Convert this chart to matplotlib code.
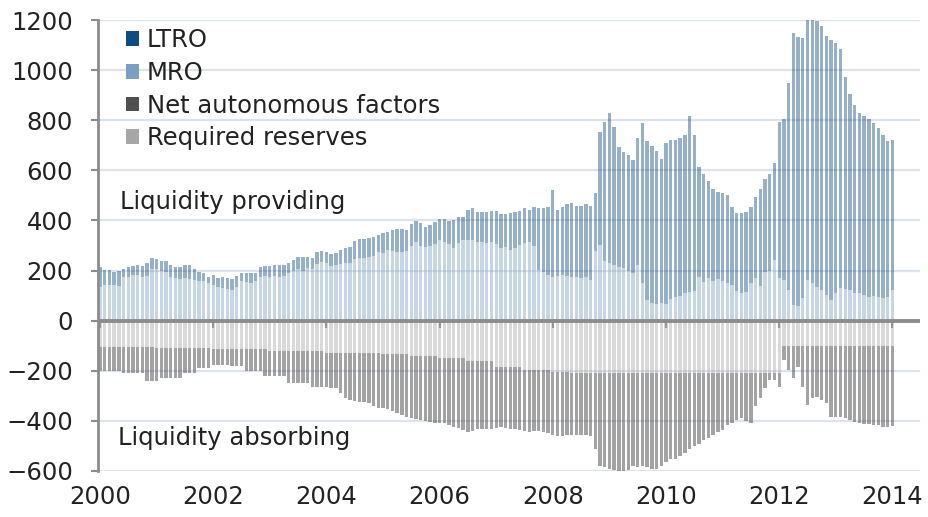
import numpy as np
import pandas as pd
import matplotlib
matplotlib.use("Agg")
import matplotlib.pyplot as plt
from matplotlib.patches import Patch

# ---------------- data (EUR bn, monthly Jan 2000 - Jan 2014) ----------------
months = pd.date_range("2000-01-01", periods=169, freq="MS")

ltro = [
    79, 60, 60, 52, 59, 30, 40, 36, 40, 45, 51, 44,            # 2000
    42, 39, 44, 48, 45, 47, 53, 58, 44, 35, 31, 25,            # 2001
    40, 36, 45, 43, 43, 44, 31, 36, 41, 31, 40, 39,            # 2002
    44, 43, 48, 45, 41, 43, 50, 55, 45, 46, 50, 44,            # 2003
    45, 47, 48, 58, 61, 64, 74, 77, 76, 76, 75, 68,            # 2004
    81, 72, 83, 92, 92, 83, 87, 84, 91, 80, 83, 90,            # 2005
    84, 92, 94, 112, 105, 95, 120, 127, 120, 120, 125, 124,    # 2006
    134, 136, 132, 148, 145, 136, 140, 128, 155, 247, 255, 272,  # 2007
    347, 263, 272, 289, 296, 284, 289, 292, 296, 230, 450, 554,  # 2008
    599, 551, 479, 464, 462, 452, 507, 640, 634, 628, 613, 576,  # 2009
    642, 637, 627, 630, 632, 702, 622, 439, 431, 388, 366, 349,  # 2010
    350, 352, 312, 311, 319, 319, 304, 323, 386, 370, 386, 387,  # 2011
    623, 642, 825, 1084, 1075, 1036, 1052, 1064, 1059, 1052, 1032, 1036,  # 2012
    998, 953, 845, 780, 748, 716, 711, 707, 690, 674, 651, 620,  # 2013
    596,                                                          # 2014
]

mro = [
    136, 143, 143, 143, 140, 175, 175, 183, 183, 175, 180, 207,
    205, 200, 195, 175, 170, 168, 170, 165, 163, 160, 160, 150,
    143, 135, 130, 128, 124, 135, 160, 155, 150, 160, 175, 180,
    175, 180, 175, 178, 190, 200, 205, 200, 210, 205, 225, 235,
    230, 220, 223, 225, 230, 231, 245, 250, 251, 255, 260, 275,
    270, 283, 280, 275, 275, 280, 300, 315, 300, 295, 300, 305,
    323, 315, 305, 291, 310, 320, 323, 323, 315, 315, 310, 315,
    305, 291, 295, 283, 290, 303, 310, 315, 300, 203, 195, 183,
    175, 180, 183, 178, 175, 175, 170, 175, 163, 280, 303, 240,
    230, 223, 215, 210, 200, 190, 223, 150, 84, 70, 65, 70,
    68, 85, 95, 100, 110, 115, 120, 175, 155, 170, 160, 165,
    160, 150, 143, 120, 112, 116, 151, 171, 140, 196, 200, 243,
    171, 163, 124, 64, 57, 92, 163, 151, 136, 124, 104, 84,
    112, 131, 127, 124, 112, 112, 104, 96, 100, 96, 92, 96,
    124,
]

net_autonomous = [
    94, 94, 94, 94, 94, 105, 105, 105, 105, 105, 135, 135,
    132, 119, 119, 119, 119, 119, 99, 99, 99, 79, 79, 79,
    60, 60, 60, 60, 65, 65, 65, 85, 85, 85, 85, 105,
    98, 98, 98, 98, 125, 125, 125, 125, 125, 143, 143, 143,
    137, 139, 142, 162, 179, 187, 192, 195, 197, 199, 212, 219,
    215, 216, 225, 232, 240, 248, 244, 248, 252, 256, 260, 264,
    257, 257, 265, 273, 280, 287, 283, 279, 271, 271, 271, 271,
    244, 240, 244, 248, 250, 252, 245, 248, 247, 245, 250, 252,
    252, 259, 257, 255, 248, 248, 248, 248, 252, 307, 375, 379,
    387, 391, 399, 399, 391, 375, 379, 375, 379, 387, 387, 375,
    359, 347, 347, 335, 320, 307, 295, 287, 268, 260, 248, 236,
    228, 208, 200, 188, 183, 195, 200, 135, 101, 61, 28, 28,
    56, 52, 92, 125, 80, 160, 232, 205, 200, 212, 224, 280,
    280, 280, 284, 292, 302, 304, 308, 308, 312, 312, 320, 320,
    316,
]

required_reserves = [
    105, 105, 105, 105, 105, 105, 105, 105, 105, 105, 105, 105,
    108, 108, 108, 108, 108, 108, 108, 108, 108, 108, 108, 108,
    115, 115, 115, 115, 115, 115, 115, 115, 115, 115, 115, 115,
    122, 122, 122, 122, 122, 122, 122, 122, 122, 122, 122, 122,
    128, 128, 128, 128, 128, 128, 128, 128, 128, 128, 128, 128,
    135, 135, 135, 135, 135, 135, 143, 143, 143, 143, 143, 143,
    150, 150, 150, 150, 150, 150, 160, 160, 160, 160, 160, 160,
    183, 183, 183, 183, 183, 183, 195, 195, 195, 195, 195, 195,
    203, 203, 203, 203, 207, 207, 207, 207, 207, 207, 207, 207,
    207, 207, 207, 207, 207, 207, 207, 207, 207, 207, 207, 207,
    207, 207, 207, 207, 207, 207, 207, 207, 207, 207, 207, 207,
    207, 207, 207, 207, 207, 207, 207, 207, 207, 207, 207, 207,
    207, 103, 103, 103, 103, 103, 103, 103, 103, 103, 103, 103,
    103, 103, 103, 103, 103, 103, 103, 103, 103, 103, 103, 103,
    103,
]

series_labels = ["LTRO", "MRO", "Net autonomous factors", "Required reserves"]
year_ticks = [2000, 2002, 2004, 2006, 2008, 2010, 2012, 2014]
y_ticks = [-600, -400, -200, 0, 200, 400, 600, 800, 1000, 1200]

# ---------------- styling ----------------
C_LTRO = "#0f4c81"
C_MRO = "#7b9fc2"
C_NAF = "#4f4f4f"
C_RR = "#a6a6a6"
TXT = "#222222"
AXC = "#8c8c8c"
FS = 17.5

x = months.year + (months.month - 1) / 12.0
mro_a = np.array(mro)
ltro_a = np.array(ltro)
rr_a = np.array(required_reserves)
naf_a = np.array(net_autonomous)

fig = plt.figure(figsize=(9.29, 5.17), dpi=100)
ax = fig.add_axes([98 / 929, 46 / 517, 822 / 929, 451 / 517])

w = 0.72 / 12
ax.bar(x, mro_a, w, color=C_MRO, alpha=0.42, linewidth=0, zorder=2)
ax.bar(x, ltro_a, w, bottom=mro_a, color=C_LTRO, alpha=0.44, linewidth=0, zorder=2)
ax.bar(x, -rr_a, w, color=C_RR, alpha=0.42, linewidth=0, zorder=2)
ax.bar(x, -naf_a, w, bottom=-rr_a, color=C_NAF, alpha=0.52, linewidth=0, zorder=2)

ax.set_xlim(2000 - 2 / 56.6, 2000 + 820 / 56.6)
ax.set_ylim(-600, 1200)

ax.set_yticks(y_ticks)
ax.yaxis.grid(True, color="#dde3ec", linewidth=1.6, zorder=0)
ax.set_axisbelow(True)
ax.axhline(0, color=AXC, linewidth=2.8, zorder=4)

for s in ["top", "right", "bottom"]:
    ax.spines[s].set_visible(False)
ax.spines["left"].set_color(AXC)
ax.spines["left"].set_linewidth(2.0)

ax.tick_params(axis="y", length=5, width=1.5, color=AXC, pad=13,
               labelsize=FS, labelcolor=TXT)
ax.set_xticks(year_ticks)
ax.set_xticklabels([str(y) for y in year_ticks])
ax.tick_params(axis="x", length=0, pad=10, labelsize=FS, labelcolor=TXT)

# tick marks on the zero line
sec = ax.secondary_xaxis(1 / 3)
sec.set_xticks(year_ticks)
sec.tick_params(axis="x", length=5, width=1.5, color=AXC, labelbottom=False, labeltop=False)
for s in sec.spines.values():
    s.set_visible(False)

ax.text(0.027, 0.596, "Liquidity providing", transform=ax.transAxes,
        fontsize=FS, color=TXT, va="center", ha="left")
ax.text(0.024, 0.073, "Liquidity absorbing", transform=ax.transAxes,
        fontsize=FS, color=TXT, va="center", ha="left")

handles = [Patch(facecolor=c, edgecolor="none") for c in (C_LTRO, C_MRO, C_NAF, C_RR)]
ax.legend(handles, series_labels, loc="upper left", bbox_to_anchor=(0.034, 0.982),
          frameon=False, fontsize=FS, handlelength=0.55, handleheight=0.55,
          handletextpad=0.3, labelspacing=0.36, borderaxespad=0, borderpad=0,
          labelcolor=TXT)

fig.savefig("out.png", dpi=100)
